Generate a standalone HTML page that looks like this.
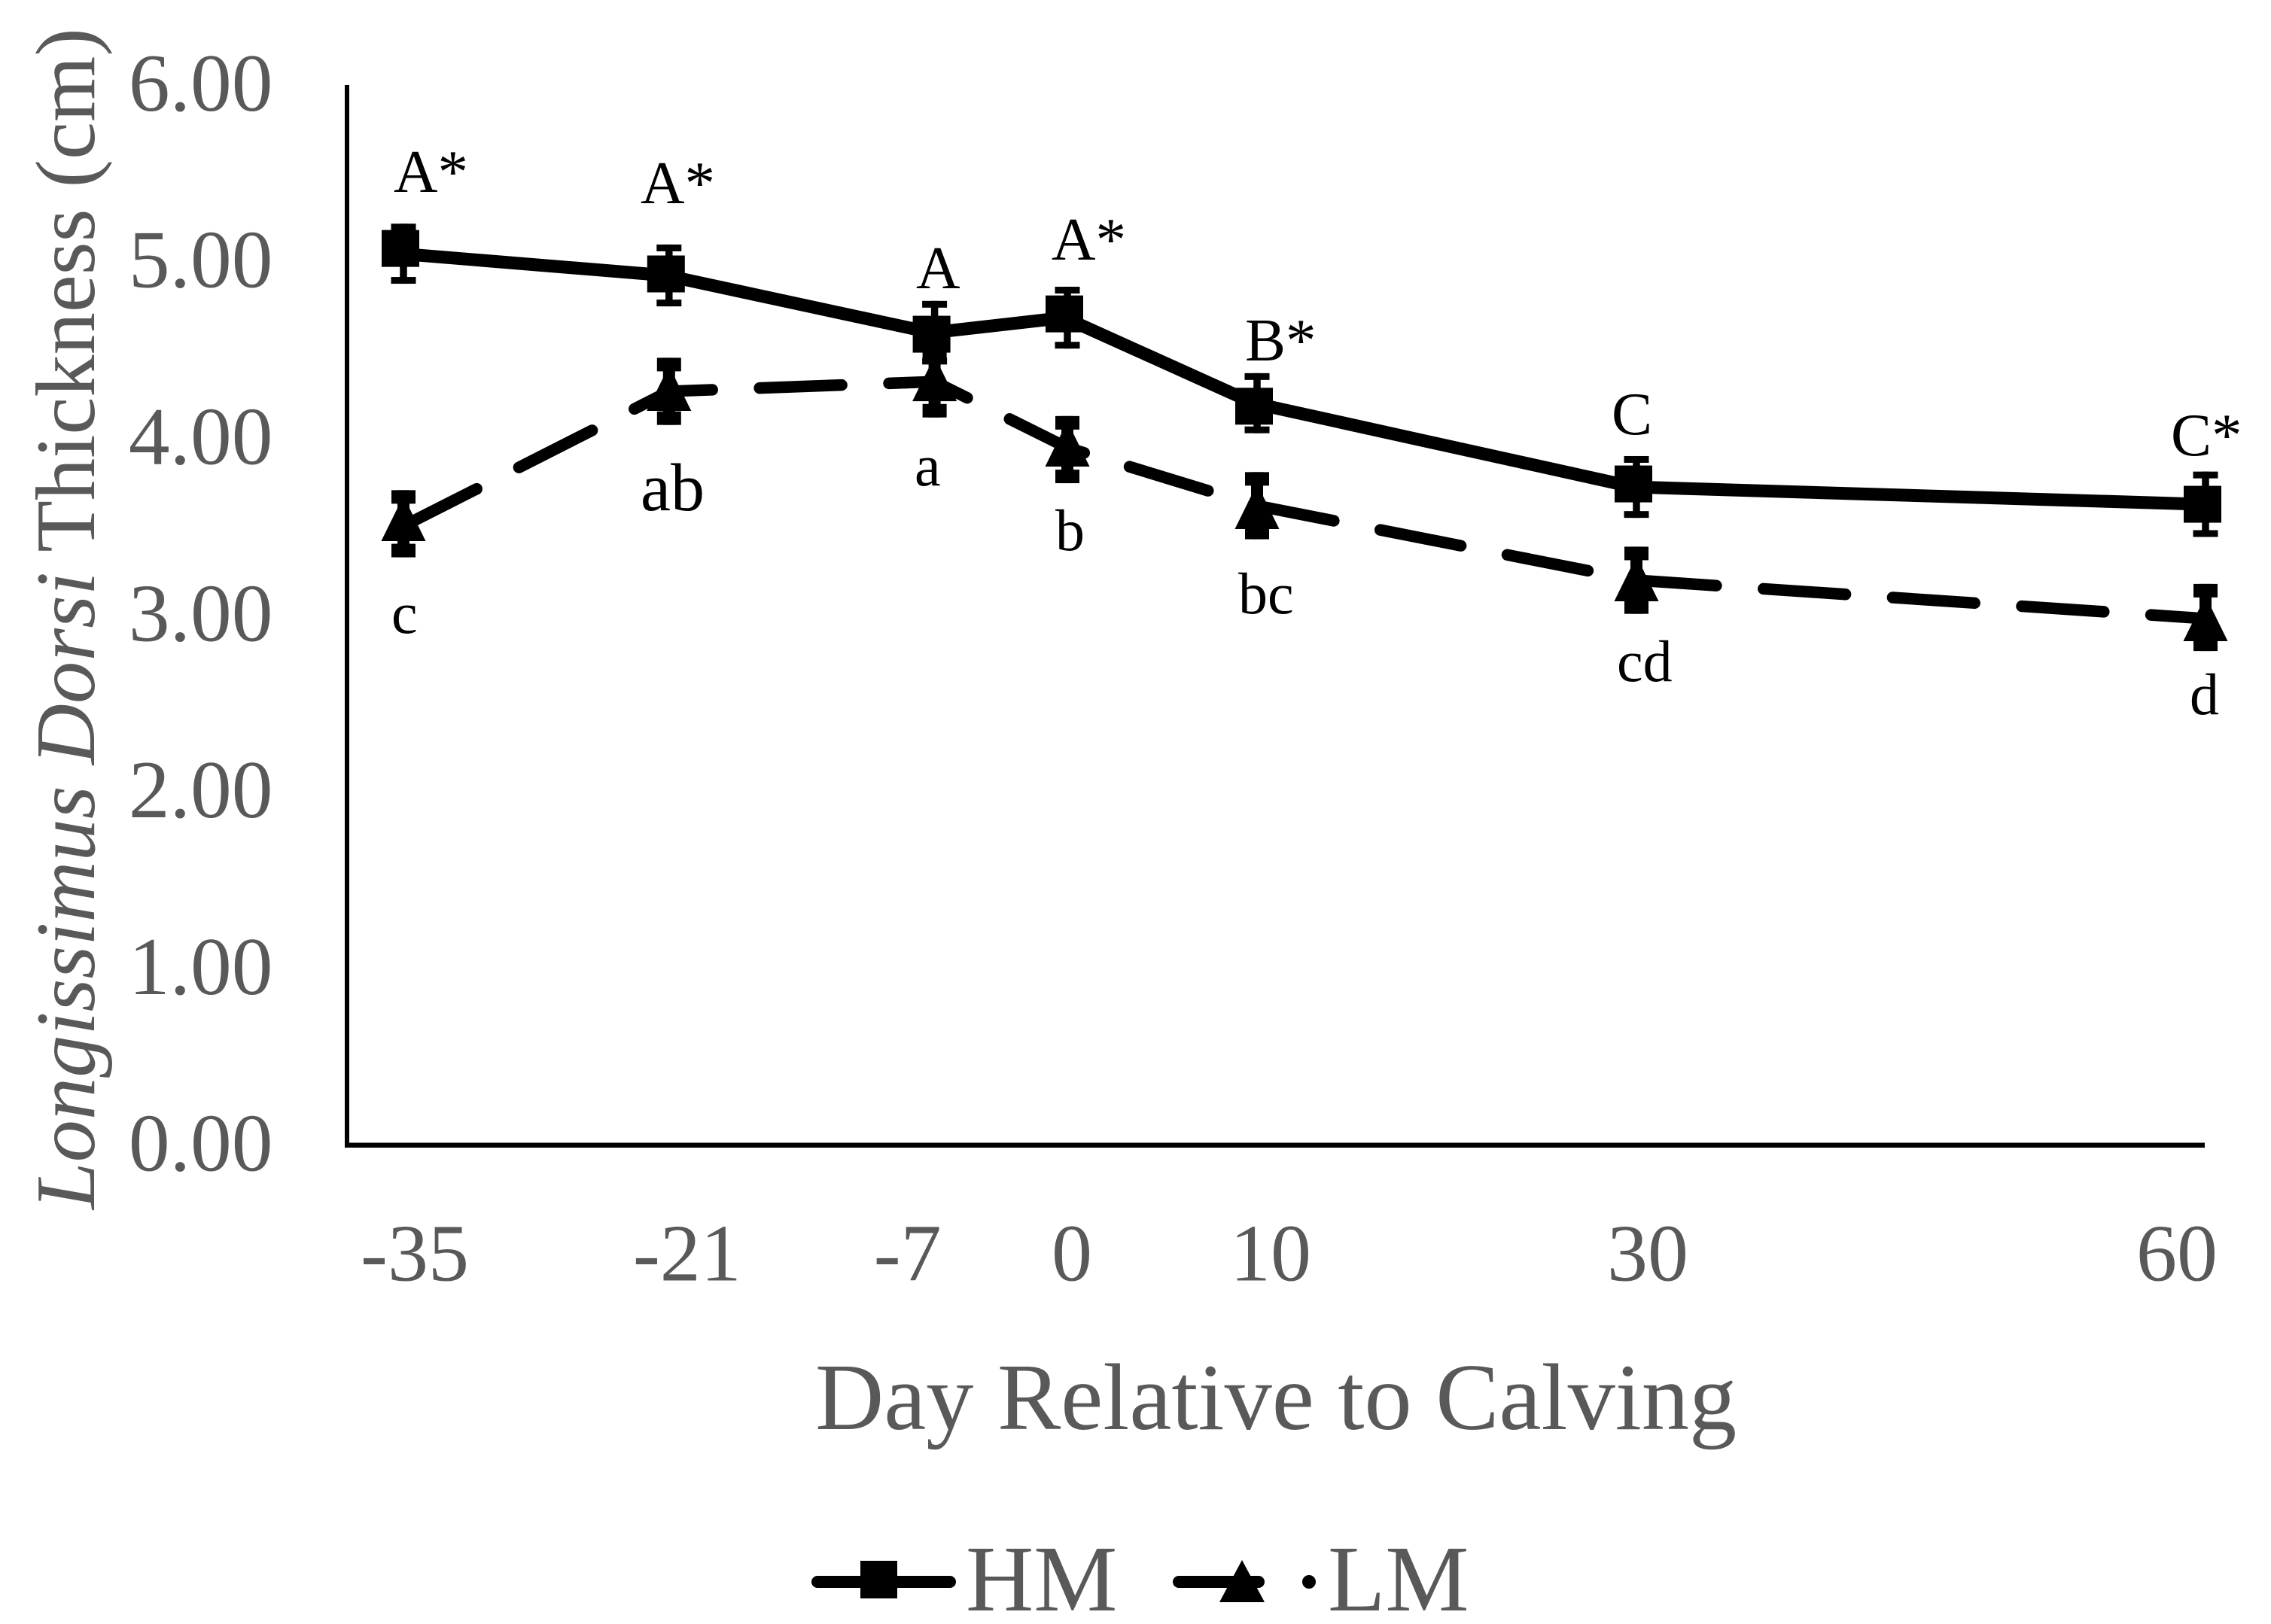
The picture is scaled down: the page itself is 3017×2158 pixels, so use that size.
<!DOCTYPE html>
<html lang="en">
<head>
<meta charset="utf-8">
<title>Longissimus Dorsi Thickness</title>
<style>
html,body{margin:0;padding:0;background:#fff;}
svg{display:block;}
text{font-family:"Liberation Serif","Times New Roman",serif;}
</style>
</head>
<body>
<svg id="chart" xmlns="http://www.w3.org/2000/svg" width="3017" height="2158" viewBox="0 0 3017 2158">
  <rect x="0" y="0" width="3017" height="2158" fill="#fff"/>
  <text transform="translate(125,1607) rotate(-90)" font-size="112.5" fill="#595959"><tspan font-style="italic">Longissimus Dorsi</tspan> Thickness (cm)</text>
  <text x="1083" y="1899" font-size="126.3" fill="#595959">Day Relative to Calving</text>

  <g font-size="81" fill="#000">
    <text x="523" y="255">A*</text>
    <text x="851" y="270">A*</text>
    <text x="1217" y="383">A</text>
    <text x="1397" y="345">A*</text>
    <text x="1654" y="479">B*</text>
    <text x="2141" y="577">C</text>
    <text x="2884" y="605">C*</text>
  </g>
  <g font-size="78" fill="#000">
    <text x="520" y="841">c</text>
    <text x="851" y="678" font-size="90">ab</text>
    <text x="1215" y="645">a</text>
    <text x="1402" y="731">b</text>
    <text x="1645" y="815">bc</text>
    <text x="2148" y="905">cd</text>
    <text x="2909" y="949">d</text>
  </g>

  <g>
    <g>
      <line x1="1086" y1="2102" x2="1262" y2="2102" stroke="#000" stroke-width="16" stroke-linecap="round"/>
      <rect x="1143" y="2074" width="49" height="50" fill="#000"/>
      <text x="1283" y="2140" font-size="125" fill="#595959">HM</text>
    </g>
    <g>
      <line x1="1566" y1="2102" x2="1672" y2="2102" stroke="#000" stroke-width="16" stroke-linecap="round"/>
      <line x1="1739" y1="2102" x2="1739" y2="2102" stroke="#000" stroke-width="18" stroke-linecap="round"/>
      <polygon points="1650,2073 1680,2129 1620,2129" fill="#000"/>
      <text x="1764" y="2140" font-size="125" fill="#595959">LM</text>
    </g>
  </g>
</svg>
<script>
const days = [-35, -21, -7, 0, 10, 30, 60];
const hmValues = [5.045, 4.922, 4.598, 4.683, 4.199, 3.725, 3.627];
const hmErrors = [0.17, 0.175, 0.18, 0.175, 0.17, 0.175, 0.185];
const lmValues = [3.504, 4.266, 4.321, 3.947, 3.619, 3.197, 2.98];
const lmErrors = [0.19, 0.19, 0.19, 0.19, 0.19, 0.19, 0.19];
const yTickValues = [0, 1, 2, 3, 4, 5, 6];

const NS = 'http://www.w3.org/2000/svg';
const svg = document.getElementById('chart');
function xAt(day) { return 532 + 25.2 * (day + 35); }
function yAt(v) { return 1521.7 - 234.8 * v; }
function make(tag, attrs, parent) {
  const node = document.createElementNS(NS, tag);
  for (const k in attrs) node.setAttribute(k, attrs[k]);
  parent.appendChild(node);
  return node;
}

function drawAxes() {
  const yAxis = make('line', {x1: 461, y1: 113, x2: 461, y2: 1525, stroke: '#000', 'stroke-width': 6}, svg);
  
  
  const xAxis = make('line', {x1: 458, y1: 1521.7, x2: 2929, y2: 1521.7, stroke: '#000', 'stroke-width': 6.5}, svg);
  
  
  yTickValues.forEach(function (v) {
    const t = make('text', {x: 362.5, y: yAt(v) + 34, 'font-size': 109.5, fill: '#595959', 'text-anchor': 'end'}, svg);
    
    
    t.textContent = v.toFixed(2);
  });
  const labelNudge = [19, 28, -32, 10, 22, 19, -34];
  days.forEach(function (d, i) {
    const t = make('text', {x: xAt(d) + labelNudge[i], y: 1701.5, 'font-size': 108, fill: '#595959', 'text-anchor': 'middle'}, svg);
    
    
    t.textContent = String(d);
  });
}

function drawErrorBar(group, cx, cy, errPx, stem, capW, capH) {
  const top = cy - errPx, bottom = cy + errPx;
  const s = make('rect', {x: cx - stem / 2, y: top, width: stem, height: bottom - top, fill: '#000'}, group);
  
  
  const c1 = make('rect', {x: cx - capW / 2, y: top, width: capW, height: capH, fill: '#000'}, group);
  
  
  const c2 = make('rect', {x: cx - capW / 2, y: bottom - capH, width: capW, height: capH, fill: '#000'}, group);
  
  
}

function drawLM() {
  const g = make('g', {}, svg);
  
  
  const dodge = 4;
  const errorNudge = [-3, 0, 3, 2.5, 0, 0, -1.5];
  const triangleBaseNudge = [20, 26, 26, 25, 31, 28, 30];
  const pts = days.map(function (d, i) { return (xAt(d) + dodge) + ',' + yAt(lmValues[i]); }).join(' ');
  const line = make('polyline', {points: pts, fill: 'none', stroke: '#000', 'stroke-width': 15.5, 'stroke-linecap': 'round', 'stroke-linejoin': 'round', 'stroke-dasharray': '109 63'}, g);
  
  
  days.forEach(function (d, i) {
    const cx = xAt(d) + dodge, cy = yAt(lmValues[i]);
    const errPx = lmErrors[i] * 234.8;
    drawErrorBar(g, cx, cy + errorNudge[i], errPx, 16, 32, 18);
    const base = cy + triangleBaseNudge[i];
    const tri = make('polygon', {points: cx + ',' + (base - 60) + ' ' + (cx + 29.5) + ',' + base + ' ' + (cx - 29.5) + ',' + base, fill: '#000'}, g);
    
    
  });
}

function drawHM() {
  const g = make('g', {}, svg);
  
  
  const markerNudge = [-7, -2, 2, -5, 4, -4, 0];
  const pts = days.map(function (d, i) { return xAt(d) + ',' + yAt(hmValues[i]); }).join(' ');
  const line = make('polyline', {points: pts, fill: 'none', stroke: '#000', 'stroke-width': 17, 'stroke-linejoin': 'round'}, g);
  
  
  days.forEach(function (d, i) {
    const cx = xAt(d), cy = yAt(hmValues[i]);
    const errPx = hmErrors[i] * 234.8;
    drawErrorBar(g, cx + 4, cy, errPx, 9.5, 33, 9);
    const sq = make('rect', {x: cx - 25, y: cy + markerNudge[i] - 24.5, width: 50, height: 49, fill: '#000'}, g);
    
    
  });
}

drawAxes();
drawLM();
drawHM();
</script>
</body>
</html>
